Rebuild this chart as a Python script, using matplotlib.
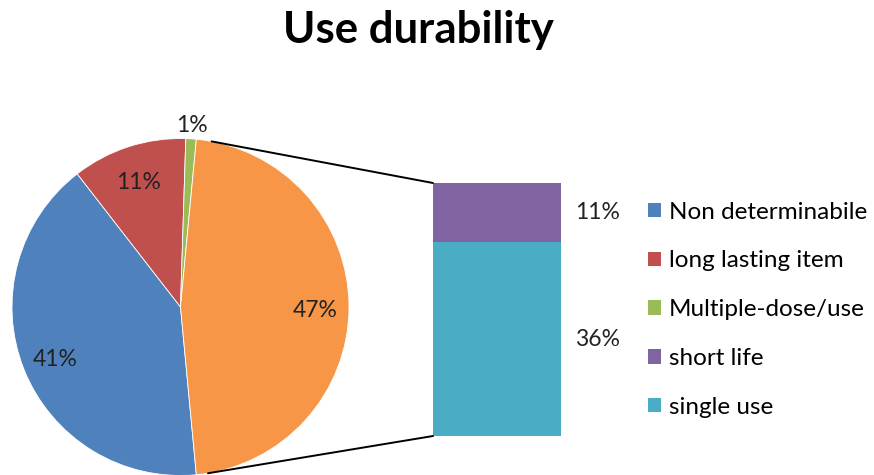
import numpy as np
import matplotlib.pyplot as plt
from matplotlib.patches import Patch, ConnectionPatch

plt.rcParams['font.family'] = ['Lato', 'DejaVu Sans']

# data
categories = ['Non determinabile', 'long lasting item', 'Multiple-dose/use',
              'short life', 'single use']
values = [41, 11, 1, 11, 36]
colors = ['#4F81BD', '#C0504D', '#9BBB59', '#8064A2', '#4BACC6']
other_color = '#F79646'

pie_vals = values[:3]
bar_vals = values[3:]
other = sum(bar_vals)

fig = plt.figure(figsize=(8.74, 4.75), dpi=100)

# pie
ax_pie = fig.add_axes([12 / 874, -0.5 / 475, 337 / 874, 337 / 475])
start = -other * 1.8
wedges, _ = ax_pie.pie(pie_vals + [other], colors=colors[:3] + [other_color],
                       startangle=start, counterclock=False, radius=1,
                       wedgeprops=dict(edgecolor='white', linewidth=0.6))
ax_pie.set_xlim(-1, 1)
ax_pie.set_ylim(-1, 1)
ax_pie.set_aspect('equal')
ax_pie.axis('off')

for w, v in zip(wedges, pie_vals + [other]):
    mid = np.deg2rad((w.theta1 + w.theta2) / 2)
    r = 1.1 if v < 5 else 0.8
    ax_pie.text(r * np.cos(mid), r * np.sin(mid) - 0.02, f'{v}%', ha='center',
                va='center', fontsize=16.5, color='#222222')

# bar of the "other" part
ax_bar = fig.add_axes([433 / 874, 39 / 475, 128 / 874, 253 / 475])
bottom = 0
for v, c in zip(bar_vals[::-1], colors[3:][::-1]):
    ax_bar.bar(0, v, width=1, bottom=bottom, color=c, edgecolor='none')
    ax_bar.annotate(f'{v}%', xy=(0.5, bottom + v / 2), xytext=(26, 0),
                    textcoords='offset points', ha='center', va='center',
                    fontsize=16.5, color='#222222', annotation_clip=False)
    bottom += v
ax_bar.set_xlim(-0.5, 0.5)
ax_bar.set_ylim(0, other)
ax_bar.axis('off')

# connector lines, tangent to the pie
fig.canvas.draw()
inv = ax_pie.transData.inverted()
for yb, sign in [(other, 1), (0, -1)]:
    p = inv.transform(ax_bar.transData.transform((-0.5, yb)))
    d = np.hypot(*p)
    ang = np.arctan2(p[1], p[0]) + sign * np.arccos(1 / d)
    con = ConnectionPatch(xyA=(np.cos(ang), np.sin(ang)), coordsA=ax_pie.transData,
                          xyB=(-0.5, yb), coordsB=ax_bar.transData,
                          color='black', linewidth=1.4)
    fig.add_artist(con)

handles = [Patch(facecolor=c, edgecolor='none') for c in colors]
fig.legend(handles, categories, loc='upper left', bbox_to_anchor=(638 / 874, 1 - 192 / 475),
           frameon=False, fontsize=17.5, handlelength=0.55, handleheight=0.55,
           handletextpad=0.33, labelspacing=1.14, borderaxespad=0)

fig.text(418 / 874, 1 - 43 / 475, 'Use durability', ha='center', va='baseline',
         fontsize=31.5, fontweight='bold')

fig.savefig('out.png', dpi=100)
